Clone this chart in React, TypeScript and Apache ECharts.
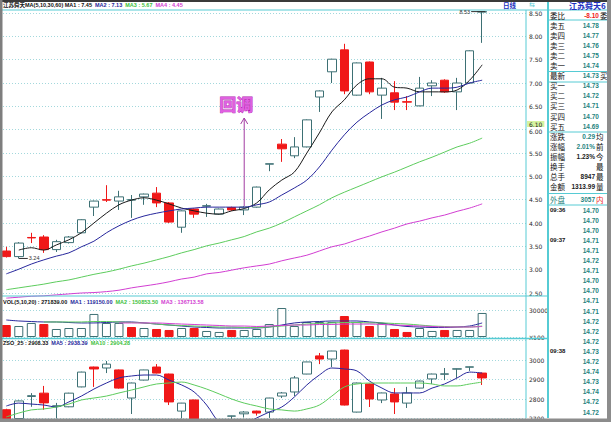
import React, { useEffect, useRef } from 'react';
import * as echarts from 'echarts';

// ---------- data ----------
const categories = Array.from({ length: 42 }, (_, i) => 'D' + (i + 1));

// main K line [open, close, low, high]
const mainK = [
  [3.40, 3.28, 3.26, 3.49], [3.28, 3.57, 3.24, 3.59], [3.69, 3.68, 3.57, 3.79], [3.70, 3.43, 3.36, 3.74],
  [3.43, 3.60, 3.38, 3.64], [3.58, 3.70, 3.56, 3.72], [3.79, 4.07, 3.78, 4.08], [4.34, 4.47, 4.15, 4.48],
  [4.50, 4.49, 4.45, 4.81], [4.47, 4.56, 4.28, 4.69], [4.49, 4.50, 4.11, 4.60], [4.56, 4.62, 4.39, 4.63],
  [4.64, 4.43, 4.34, 4.77], [4.43, 4.02, 4.00, 4.45], [3.91, 4.26, 3.79, 4.27], [4.30, 4.19, 4.11, 4.31],
  [4.36, 4.37, 4.13, 4.41], [4.19, 4.30, 4.18, 4.31], [4.33, 4.28, 4.26, 4.35], [4.28, 4.34, 4.17, 4.36],
  [4.34, 4.77, 4.33, 4.78], [5.26, 5.27, 5.11, 5.27], [5.69, 5.59, 5.31, 5.80], [5.44, 5.63, 5.39, 5.84],
  [5.63, 6.21, 5.62, 6.22], [6.70, 6.83, 6.38, 6.84], [7.24, 7.51, 7.00, 7.52], [7.71, 6.83, 6.76, 7.84],
  [6.74, 7.43, 6.73, 7.44], [7.45, 6.81, 6.76, 7.46], [6.74, 6.89, 6.23, 7.11], [6.79, 6.59, 6.42, 7.04],
  [6.60, 6.59, 6.42, 6.72], [6.51, 6.89, 6.50, 7.13], [6.94, 7.00, 6.72, 7.06], [7.06, 6.81, 6.79, 7.08],
  [6.81, 7.00, 6.42, 7.11], [7.00, 7.69, 6.99, 7.70], [8.52, 8.53, 7.86, 8.53],
];
const ma5 = [null, 3.42, 3.47, 3.42, 3.53, 3.64, 3.79, 4.00, 4.21, 4.39, 4.49, 4.54, 4.49, 4.41, 4.32, 4.26, 4.21, 4.19, 4.26, 4.31, 4.43, 4.71, 4.92, 5.09, 5.50, 5.93, 6.38, 6.64, 6.96, 7.09, 7.09, 6.91, 6.89, 6.81, 6.81, 6.81, 6.85, 7.06, 7.39];
const ma10 = [2.91, 3.01, 3.12, 3.21, 3.29, 3.36, 3.49, 3.61, 3.79, 3.94, 4.06, 4.15, 4.21, 4.26, 4.30, 4.32, 4.34, 4.34, 4.34, 4.34, 4.39, 4.45, 4.60, 4.75, 4.92, 5.20, 5.56, 5.89, 6.16, 6.36, 6.53, 6.64, 6.70, 6.81, 6.89, 6.89, 6.91, 7.00, 7.06];
const ma30 = [2.57, 2.61, 2.65, 2.69, 2.74, 2.78, 2.84, 2.90, 2.95, 3.01, 3.08, 3.14, 3.21, 3.28, 3.36, 3.43, 3.51, 3.57, 3.64, 3.71, 3.81, 3.89, 4.00, 4.13, 4.26, 4.39, 4.54, 4.66, 4.77, 4.88, 4.99, 5.09, 5.20, 5.31, 5.41, 5.52, 5.63, 5.71, 5.82];
const ma60 = [2.39, 2.41, 2.43, 2.44, 2.46, 2.48, 2.50, 2.51, 2.53, 2.56, 2.61, 2.65, 2.69, 2.74, 2.80, 2.84, 2.91, 2.94, 2.99, 3.04, 3.08, 3.12, 3.19, 3.25, 3.31, 3.40, 3.49, 3.55, 3.64, 3.72, 3.81, 3.89, 3.98, 4.04, 4.11, 4.17, 4.25, 4.32, 4.41];

// volume
const vol = [13300, 12200, 15600, 14400, 8900, 10000, 10000, 25600, 15600, 15600, 11100, 10000, 8900, 7800, 10000, 10000, 6700, 5600, 7800, 7800, 8900, 14400, 32200, 12200, 16700, 16700, 16700, 23300, 16700, 12200, 15600, 8900, 5600, 10000, 6700, 7800, 7800, 7800, 26700];
const volRed = [1, 0, 0, 1, 0, 0, 0, 0, 0, 0, 1, 0, 1, 1, 0, 1, 0, 0, 1, 0, 0, 0, 0, 0, 0, 0, 0, 1, 0, 1, 0, 1, 1, 0, 0, 1, 0, 0, 0];
const volMa5 = [18900, 17800, 17200, 16700, 16700, 16100, 15600, 15600, 16100, 16700, 16700, 15600, 14400, 13300, 12200, 11100, 10600, 10000, 10000, 10000, 10000, 11100, 13300, 15600, 16700, 17200, 17800, 17800, 17800, 16700, 15600, 13300, 11700, 11100, 10600, 10600, 11100, 12200, 15600];
const volMa10 = [null, null, null, 16700, 16700, 16700, 16700, 17200, 17200, 16700, 16100, 15600, 14400, 13300, 12800, 12200, 11700, 11100, 11100, 10600, 10600, 11100, 12200, 13300, 14400, 15000, 15600, 16100, 16100, 15600, 15600, 15000, 14400, 13300, 12200, 11700, 11100, 11100, 12200];
const volMa20 = [null, null, null, null, null, null, null, null, null, 15600, 15600, 15600, 15600, 15000, 14400, 13900, 13300, 12800, 12200, 12200, 11700, 12200, 12800, 13300, 13300, 13900, 13900, 14400, 14400, 14400, 13900, 13300, 12800, 12200, 11700, 11100, 11100, 11100, 11700];

// index pane [open, close, low, high]
const idxK = [
  [2745, 2690, 2680, 2750], [2700, 2790, 2695, 2792], [2813, 2817, 2760, 2830], [2830, 2780, 2745, 2867],
  [2763, 2765, 2700, 2780], [2760, 2830, 2758, 2832], [2862, 2938, 2860, 2940], [2964, 2954, 2862, 2966],
  [2959, 2979, 2933, 2995], [2949, 2856, 2853, 2951], [2805, 2882, 2723, 2884], [2897, 2949, 2895, 2950],
  [2964, 2933, 2931, 2979], [2928, 2785, 2769, 2930], [2738, 2779, 2700, 2780], [2795, 2690, 2680, 2797],
  [2650, 2690, 2640, 2695], [2690, 2660, 2650, 2692], [2712, 2713, 2680, 2714], [2724, 2733, 2705, 2738],
  [2738, 2728, 2715, 2740], [2733, 2805, 2703, 2806], [2815, 2831, 2805, 2836], [2836, 2908, 2815, 2918],
  [2928, 2990, 2927, 2991], [3021, 3005, 2979, 3036], [3005, 3046, 2964, 3047], [3051, 2769, 2767, 3053],
  [2733, 2882, 2731, 2884], [2877, 2800, 2759, 2879], [2795, 2831, 2779, 2833], [2826, 2785, 2723, 2856],
  [2779, 2831, 2754, 2862], [2856, 2892, 2854, 2894], [2903, 2928, 2877, 2930], [2927, 2929, 2897, 2959],
  [2953, 2955, 2908, 2956], [2963, 2965, 2944, 2966], [2933, 2908, 2872, 2935],
];
const idxMa5 = [2764, 2779, 2774, 2769, 2759, 2785, 2815, 2851, 2882, 2908, 2918, 2923, 2923, 2897, 2872, 2836, 2769, 2682, 2662, 2672, 2703, 2733, 2759, 2810, 2872, 2923, 2959, 2954, 2944, 2892, 2856, 2831, 2831, 2831, 2856, 2877, 2908, 2938, 2933];
const idxMa10 = [2708, 2728, 2744, 2749, 2759, 2774, 2795, 2805, 2815, 2831, 2846, 2862, 2877, 2882, 2887, 2872, 2851, 2826, 2800, 2779, 2764, 2749, 2744, 2738, 2749, 2769, 2815, 2862, 2877, 2882, 2882, 2882, 2882, 2882, 2877, 2867, 2867, 2877, 2887];

// annotations
const highValue = 8.53;
const lowValue = 3.24;
const curPrice = 6.10;
const pullbackIndex = 19;
const pullbackFrom = 4.36;
const pullbackTo = 6.25;
const pullbackText = '回调';

// headers
const mainHeader = ['江苏舜天MA(5,10,30,60) MA1 : 7.45', 'MA2 : 7.13', 'MA3 : 5.67', 'MA4 : 4.45'];
const volHeader = ['VOL(5,10,20) : 271839.00', 'MA1 : 119150.00', 'MA2 : 150853.50', 'MA3 : 136713.58'];
const idxHeader = ['ZSO_25 : 2908.33', 'MA5 : 2938.39', 'MA10 : 2904.28'];

// right side quote panel
const stockName = '江苏舜天6';
const periodLabel = '日线';
const bookLabels = ['委比', '卖五', '卖四', '卖三', '卖二', '卖一', '最新', '买一', '买二', '买三', '买四', '买五', '涨跌', '涨幅', '振幅', '换手', '总手', '金额', '外盘'];
const bookValues = ['-8.10', '14.78', '14.77', '14.76', '14.75', '14.74', '14.73', '14.73', '14.72', '14.71', '14.70', '14.69', '0.29', '2.01%', '1.23%', '', '8947', '1313.99', '3057'];
const bookTails = ['委', '', '', '', '', '', '买', '', '', '', '', '', '均', '前', '今', '最', '最', '量', '内'];
const tickTimes = ['09:36', '', '', '09:37', '', '', '', '', '', '', '', '', '', '', '09:38', '', '', '', '', '', ''];
const tickPrices = ['14.70', '14.70', '14.70', '14.71', '14.71', '14.72', '14.71', '14.70', '14.70', '14.71', '14.71', '14.72', '14.72', '14.72', '14.73', '14.72', '14.74', '14.73', '14.74', '14.72', '14.72'];

// ---------- styles ----------
const RED = '#f01818';
const TEAL = '#3d7074';
const CYAN = '#56cbd4';
const GRIDC = '#a3d8dc';
const C_MA5 = '#1a1a1a';
const C_MA10 = '#27279c';
const C_MA30 = '#5dcc5d';
const C_MA60 = '#d23ed2';
const NUM = '#1f8480';
const SANS = '"Liberation Sans","Noto Sans CJK SC"';
const CJK = '"Noto Sans CJK SC"';

const kStyle = { color: '#ffffff', color0: RED, borderColor: TEAL, borderColor0: RED, borderWidth: 1 };

function lineSeries(data: any[], color: string, g: number, extra: any = {}) {
  return {
    type: 'line', xAxisIndex: g, yAxisIndex: g, data, symbol: 'none', smooth: 0.35,
    lineStyle: { width: 1, color }, itemStyle: { color }, silent: true, ...extra,
  };
}

function yAxisBase(g: number, min: number, max: number, interval: number, extra: any = {}) {
  return {
    type: 'value', gridIndex: g, position: 'right', min, max, interval, scale: false,
    axisLine: { show: false }, axisTick: { show: false },
    axisLabel: { fontSize: 6, color: '#2a2a2a', margin: 3, fontFamily: 'DejaVu Sans', ...(extra.axisLabel || {}) },
    splitLine: { show: true, lineStyle: { color: GRIDC, type: [1, 2], width: 1 } },
  };
}

function buildOption() {
  return {
    animation: false,
    backgroundColor: '#ffffff',
    grid: [
      { left: 0, top: 13, width: 526, height: 280 },
      { left: 0, top: 310, width: 526, height: 27 },
      { left: 0, top: 340.5, width: 526, height: 78 },
    ],
    xAxis: [0, 1, 2].map((g) => ({ type: 'category', gridIndex: g, data: categories, show: false, boundaryGap: true })),
    yAxis: [
      yAxisBase(0, 2.5, 8.5, 0.5, {
        axisLabel: { formatter: (v: number) => (Math.abs(v - 6) < 1e-6 ? '' : v.toFixed(2)) },
      }),
      yAxisBase(1, 0, 30000, 30000, { axisLabel: { formatter: (v: number) => (v === 0 ? 'X100' : String(v)) } }),
      yAxisBase(2, 2700, 3100, 100, { axisLabel: { showMaxLabel: false, formatter: (v: number) => String(v) } }),
    ],
    series: [
      { type: 'candlestick', xAxisIndex: 0, yAxisIndex: 0, data: mainK, barWidth: 9, itemStyle: kStyle, silent: true },
      lineSeries(ma5, C_MA5, 0),
      lineSeries(ma10, C_MA10, 0),
      lineSeries(ma30, C_MA30, 0),
      lineSeries(ma60, C_MA60, 0, { clip: false }),
      {
        type: 'bar', xAxisIndex: 1, yAxisIndex: 1, barWidth: 9, clip: false, silent: true,
        data: vol.map((v, i) => ({
          value: v,
          itemStyle: volRed[i] ? { color: RED, borderColor: RED, borderWidth: 1 } : { color: '#ffffff', borderColor: TEAL, borderWidth: 1 },
        })),
      },
      lineSeries(volMa5, C_MA10, 1, { smooth: 0.3 }),
      lineSeries(volMa10, C_MA30, 1, { smooth: 0.3 }),
      lineSeries(volMa20, C_MA60, 1, { smooth: 0.3 }),
      { type: 'candlestick', xAxisIndex: 2, yAxisIndex: 2, data: idxK, barWidth: 9, itemStyle: kStyle, silent: true },
      lineSeries(idxMa5, C_MA10, 2),
      lineSeries(idxMa10, C_MA30, 2),
    ],
  };
}

function buildGraphic(chart: any) {
  const p = (g: number, x: number, y: number) => chart.convertToPixel({ gridIndex: g }, [x, y]) as number[];
  const els: any[] = [];
  const txt = (x: number, y: number, text: string, st: any = {}, z = 50) => {
    const align = st.align || 'left';
    els.push({
      type: 'text', x, y, z, silent: true,
      style: { text, fill: '#111', font: `5.5px ${SANS}`, align, textAlign: align, verticalAlign: 'middle', textVerticalAlign: 'middle', ...st },
    });
  };
  const line = (x1: number, y1: number, x2: number, y2: number, stroke: string, w = 1, z = 40) =>
    els.push({ type: 'line', z, silent: true, shape: { x1, y1, x2, y2 }, style: { stroke, lineWidth: w } });
  const rect = (x: number, y: number, w: number, h: number, fill: string, z = 90) =>
    els.push({ type: 'rect', z, silent: true, shape: { x, y, width: w, height: h }, style: { fill } });
  const rich = (x: number, y: number, parts: string[], colors: string[]) => {
    const keys = parts.map((_, i) => 's' + i);
    const richStyle: any = {};
    keys.forEach((k, i) => { richStyle[k] = { fill: colors[i], color: colors[i], font: `bold 5.5px ${SANS}` }; });
    els.push({
      type: 'text', x, y, z: 50, silent: true,
      style: {
        text: parts.map((s, i) => `{${keys[i]}|${s}}`).join('  '),
        font: `bold 5.5px ${SANS}`, verticalAlign: 'middle', textVerticalAlign: 'middle', rich: richStyle,
      },
    });
  };

  // frame lines
  line(2, 10, 607, 10, CYAN);
  line(0, 296, 548, 296, CYAN);
  line(0, 338.5, 548, 338.5, CYAN, 1.5);
  line(526, 10, 526, 418, CYAN);
  line(548, 0, 548, 418, CYAN, 2);
  [20, 71.5, 82, 132, 193.5, 205].forEach((y) => line(548, y, 607, y, CYAN));

  // headers
  rich(3, 5, mainHeader, ['#111', C_MA10, '#3cbf3c', C_MA60]);
  rich(3, 302, volHeader, ['#111', C_MA10, '#3cbf3c', C_MA60]);
  rich(3, 343, idxHeader, ['#111', C_MA10, '#3cbf3c']);
  txt(503, 5, periodLabel, { font: `bold 6.5px ${CJK}`, fill: '#2030c0' });
  txt(529, 5, '⇆', { font: '7px "DejaVu Sans"', fill: CYAN });
  txt(569, 5, stockName, { font: `bold 8px ${CJK}`, fill: '#2030c0' });

  // order book
  bookLabels.forEach((lab, i) => {
    const y = 15 + i * 10.1 + (i === 18 ? 3 : 0);
    const right = i < 12 ? 599 : 595;
    const labColor = lab === '外盘' ? NUM : '#111';
    txt(550, y, lab, { font: `7.5px ${CJK}`, fill: labColor });
    const v = bookValues[i];
    const dark = lab === '振幅' || lab === '总手' || lab === '金额';
    const vColor = v.startsWith('-') ? RED : dark ? '#1a1a1a' : NUM;
    if (v) txt(right, y, v, { font: `bold 6.5px ${SANS}`, fill: vColor, align: 'right' });
    if (bookTails[i]) txt(right + 1, y, bookTails[i], { font: `7.5px ${CJK}`, fill: lab === '外盘' ? RED : '#111' });
  });
  tickPrices.forEach((pr, i) => {
    const y = 210 + i * 10.1;
    if (tickTimes[i]) txt(550, y, tickTimes[i], { font: `bold 6px ${SANS}`, fill: '#111' });
    txt(599, y, pr, { font: `bold 6.5px ${SANS}`, fill: NUM, align: 'right' });
  });

  // annotations via the chart's own scales
  const [hx, hy] = p(0, mainK.length - 1, highValue);
  line(hx - 11, hy, hx + 3, hy, '#333');
  txt(hx - 12, hy, highValue.toFixed(2), { align: 'right', fill: '#333' });

  const [lx, ly] = p(0, 1, lowValue);
  line(lx, ly, lx + 9, ly, '#333');
  txt(lx + 10, ly, lowValue.toFixed(2), { fill: '#333' });

  // current price tag stacked over the 6.00 tick label
  const [, cy] = p(0, 0, curPrice);
  const [, sy] = p(0, 0, 6.0);
  txt(527, cy - 1, curPrice.toFixed(2), { font: '6px "DejaVu Sans"', fill: '#222', backgroundColor: '#d6f3a0', padding: [0, 2] }, 60);
  txt(529, sy + 2, (6.0).toFixed(2), { font: '6px "DejaVu Sans"', fill: '#2a2a2a' }, 55);

  const [ax, ay0] = p(0, pullbackIndex, pullbackFrom);
  const [, ay1] = p(0, pullbackIndex, pullbackTo);
  line(ax, ay0, ax, ay1, '#a23ca2', 1, 50);
  els.push({
    type: 'polyline', z: 50, silent: true,
    shape: { points: [[ax - 3.5, ay1 + 6], [ax, ay1], [ax + 3.5, ay1 + 6]] },
    style: { stroke: '#a23ca2', fill: null, lineWidth: 1 },
  });
  txt(ax - 8, ay1 - 15, pullbackText, {
    font: `bold 17px ${CJK}`, fill: '#e060e0', stroke: '#b01cb0', lineWidth: 0.8, align: 'center',
  });

  // outer borders on top
  rect(0, 0, 611, 2, '#3a3a3a');
  rect(0, 0, 2.5, 422, '#7e7e7e');
  rect(607, 0, 4, 422, '#8c8c8c');
  rect(0, 418.5, 611, 4, '#8c8c8c');
  return els;
}

export default function App() {
  const ref = useRef<HTMLDivElement>(null);
  useEffect(() => {
    if (!ref.current) return;
    const chart = echarts.init(ref.current, null, { renderer: 'svg' });
    chart.setOption(buildOption());
    chart.setOption({ graphic: buildGraphic(chart) });
    return () => chart.dispose();
  }, []);
  return (
    <div
      ref={ref}
      style={{ position: 'fixed', left: 0, top: 0, width: 611, height: 422, background: '#ffffff' }}
    />
  );
}
